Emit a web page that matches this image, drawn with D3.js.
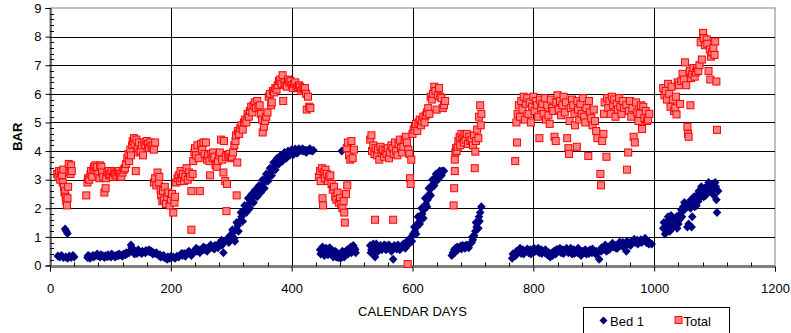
<!DOCTYPE html>
<html>
<head>
<meta charset="utf-8">
<script src="https://cdn.jsdelivr.net/npm/d3@7"></script>
<style>
  html, body { margin: 0; padding: 0; background: #fff; }
  svg { display: block; font-family: "Liberation Sans", Arial, sans-serif; }
</style>
</head>
<body>
<svg id="chart" width="791" height="333"></svg>
<script>
// ---------------- DATA ----------------
const xTicks = [0, 200, 400, 600, 800, 1000, 1200];
const yTicks = [0, 1, 2, 3, 4, 5, 6, 7, 8, 9];
const xTitle = "CALENDAR DAYS";
const yTitle = "BAR";
const seriesNames = ["Bed 1", "Total"];

// Bed 1 : [day, bar]
const bed1 = [
  [13,0.33],[16,0.3],[19,0.35],[22,0.28],[25,1.28],[27,1.2],[29,1.12],[26,0.3],[29,0.25],[32,0.33],[35,0.28],[38,0.35],[40,0.3],
  [62,0.28],[65,0.32],[68,0.3],[71,0.35],[74,0.33],[77,0.36],[80,0.33],[83,0.3],[86,0.35],[89,0.32],[92,0.34],[95,0.31],[98,0.33],
  [101,0.3],[104,0.35],[107,0.33],[110,0.36],[113,0.34],[116,0.37],[119,0.36],[122,0.4],[125,0.38],[128,0.42],[131,0.45],[134,0.72],
  [136,0.6],[138,0.45],[141,0.5],[144,0.42],[147,0.48],[150,0.45],[153,0.5],[156,0.47],[159,0.52],[162,0.5],[165,0.48],[168,0.5],
  [171,0.45],[174,0.42],[177,0.4],[180,0.35],[183,0.3],[186,0.32],[189,0.28],[192,0.25],[195,0.3],[198,0.25],[201,0.28],
  [63,0.35],[66,0.25],[72,0.3],[78,0.4],[84,0.38],[90,0.28],[96,0.38],[102,0.4],[108,0.3],[114,0.4],[120,0.32],[126,0.45],
  [132,0.5],[135,0.62],[140,0.4],[146,0.55],[152,0.42],[158,0.45],[164,0.55],[170,0.4],[176,0.45],[182,0.38],[188,0.35],
  [194,0.22],[200,0.32],
  [204,0.3],[207,0.25],[210,0.32],[213,0.3],[216,0.38],[219,0.35],[222,0.42],[225,0.4],[228,0.45],[231,0.42],[234,0.35],[237,0.48],
  [240,0.52],[243,0.5],[246,0.55],[249,0.52],[252,0.58],[255,0.55],[258,0.6],[261,0.58],[264,0.62],[267,0.65],[270,0.6],[273,0.7],
  [276,0.68],[279,0.75],[282,0.8],[285,0.72],[287,0.45],[289,0.85],[292,0.9],[295,0.95],[298,1.05],[300,1.0],[303,1.15],[306,0.85],
  [308,1.25],[311,1.4],[314,1.55],[317,1.7],[320,1.85],[323,1.95],[326,2.05],[329,2.15],[332,2.25],[335,2.35],[338,2.45],[341,2.5],
  [344,2.6],[347,2.65],[350,2.75],[353,2.85],[356,2.95],[359,3.05],[362,3.15],[365,3.25],[368,3.35],[371,3.45],[374,3.55],[377,3.62],
  [380,3.7],[383,3.78],[386,3.82],[389,3.86],[392,3.9],[395,3.93],[398,3.95],[401,3.97],[404,3.98],[407,4.0],[410,3.97],[413,4.01],
  [416,4.02],[419,4.0],[422,4.03],[425,4.02],[428,4.03],[431,4.02],[434,4.0],
  [218,0.42],[224,0.32],[230,0.5],[236,0.42],[242,0.6],[248,0.45],[254,0.65],[260,0.5],[266,0.72],[272,0.58],[278,0.62],[284,0.88],
  [296,0.8],[302,1.25],[305,0.95],[309,1.5],[312,1.2],[316,1.85],[319,1.55],[322,2.1],[325,1.85],[328,2.35],[331,2.0],[334,2.5],
  [337,2.2],[340,2.65],[343,2.4],[346,2.8],[349,2.55],[352,3.0],[355,2.7],[358,3.2],[361,2.95],[364,3.4],[367,3.15],[370,3.6],
  [373,3.35],[376,3.75],[379,3.55],[382,3.85],[385,3.65],[388,3.95],[391,3.75],[394,4.0],[397,3.85],[400,4.05],[403,3.88],
  [406,4.07],[409,3.92],[412,4.08],[418,4.08],[424,3.95],[430,4.08],[436,4.03],
  [483,4.0],
  [447,0.55],[450,0.45],[453,0.6],[456,0.4],[459,0.55],[462,0.5],[465,0.45],[468,0.4],[471,0.35],[474,0.3],[477,0.28],[480,0.4],
  [483,0.3],[486,0.45],[489,0.35],[492,0.55],[495,0.45],[498,0.65],[501,0.5],[504,0.6],[506,0.45],
  [448,0.4],[451,0.65],[454,0.35],[457,0.6],[460,0.38],[463,0.62],[466,0.55],[469,0.3],[472,0.5],[475,0.45],[478,0.38],[481,0.25],
  [484,0.5],[487,0.3],[490,0.5],[493,0.4],[496,0.6],[499,0.45],[502,0.7],[505,0.55],
  [530,0.7],[532,0.55],[535,0.75],[538,0.3],[541,0.65],[544,0.6],[547,0.7],[550,0.62],[553,0.72],[556,0.55],[559,0.68],[562,0.6],
  [565,0.5],[568,0.22],[571,0.62],[574,0.58],[577,0.65],[580,0.6],[583,0.7],[586,0.68],[589,0.75],[592,0.8],[595,0.9],[598,1.0],
  [531,0.45],[534,0.6],[537,0.5],[540,0.75],[543,0.5],[546,0.6],[549,0.55],[552,0.65],[555,0.7],[558,0.6],[561,0.72],[564,0.65],
  [567,0.55],[570,0.7],[573,0.65],[576,0.72],[579,0.55],[582,0.65],[585,0.75],[588,0.6],[591,0.85],[594,0.75],
  [601,1.1],[604,1.2],[607,1.35],[610,1.5],[613,1.65],[616,1.8],[619,1.95],[622,2.15],[625,2.3],[628,2.5],[631,2.7],[634,2.85],
  [637,3.0],[640,3.1],[643,3.18],[646,3.24],[649,3.3],[652,3.3],
  [599,0.85],[603,1.35],[606,1.1],[609,1.7],[612,1.45],[615,2.0],[618,1.65],[621,2.35],[624,2.05],[627,2.7],[630,2.45],[633,3.0],
  [636,2.8],[639,3.2],[642,3.0],[645,3.3],[648,3.15],
  [665,0.35],[667,0.45],[669,0.55],[671,0.6],[674,0.65],[677,0.62],[680,0.68],[683,0.7],[686,0.66],[689,0.72],[692,0.7],[695,0.75],
  [698,0.8],[700,0.9],[702,1.05],[704,1.2],[706,1.35],[708,1.5],[710,1.7],[712,1.85],[714,2.05],
  [670,0.45],[675,0.55],[681,0.58],[687,0.6],[693,0.62],[699,1.0],[705,1.5],[709,1.3],[711,1.55],
  [765,0.25],[768,0.4],[771,0.35],[774,0.45],[777,0.5],[780,0.42],[783,0.55],[786,0.48],[789,0.52],[792,0.45],[795,0.55],[798,0.5],
  [801,0.6],[804,0.55],[807,0.5],[810,0.45],[813,0.55],[816,0.5],[819,0.45],[822,0.4],[825,0.35],[828,0.3],[831,0.45],[834,0.5],
  [837,0.4],[840,0.55],[843,0.5],[846,0.45],[849,0.55],[852,0.5],[855,0.6],[858,0.45],[861,0.5],[864,0.4],[867,0.55],[870,0.5],
  [873,0.45],[876,0.55],[879,0.35],[882,0.5],[885,0.45],[888,0.4],[891,0.5],[894,0.55],[897,0.45],[900,0.5],[903,0.4],[906,0.45],
  [909,0.22],[912,0.5],[915,0.55],[918,0.6],[921,0.5],[924,0.65],[927,0.6],[930,0.7],[933,0.65],[936,0.7],[939,0.6],[942,0.75],
  [945,0.7],[948,0.8],[951,0.72],[954,0.5],[957,0.75],[960,0.8],[963,0.78],[966,0.85],[969,0.8],[972,0.88],[975,0.82],[978,0.9],
  [981,0.85],[984,0.88],[987,0.8],[990,0.85],[993,0.78],[996,0.75],
  [766,0.4],[772,0.5],[778,0.6],[784,0.4],[790,0.58],[796,0.4],[802,0.48],[808,0.6],[814,0.42],[820,0.55],[826,0.45],[832,0.35],
  [838,0.55],[844,0.6],[850,0.42],[856,0.5],[862,0.6],[868,0.42],[874,0.6],[880,0.48],[886,0.55],[892,0.42],[898,0.58],[904,0.5],
  [913,0.62],[919,0.72],[925,0.55],[931,0.78],[937,0.6],[943,0.82],[949,0.65],[955,0.85],[961,0.7],[967,0.92],[973,0.75],
  [979,0.8],[985,0.95],[991,0.75],
  [1015,1.3],[1018,1.1],[1020,1.5],[1022,1.25],[1025,1.6],[1027,1.4],[1030,1.65],[1032,1.35],[1035,1.55],[1037,1.7],[1040,1.45],
  [1042,1.6],[1045,1.95],[1048,2.05],[1050,1.95],[1052,2.0],[1055,1.35],[1057,1.45],[1058,2.1],[1060,2.0],[1062,1.35],[1063,1.7],
  [1065,2.2],[1067,2.05],[1069,2.3],[1071,2.45],[1073,2.25],[1075,2.55],[1077,2.4],[1079,2.6],[1081,2.5],[1083,2.7],[1085,2.45],
  [1087,2.75],[1089,2.55],[1091,2.8],[1093,2.6],[1095,2.65],[1097,2.85],[1099,2.45],[1101,2.9],[1103,2.3],[1104,1.85],[1106,2.6],
  [1016,1.5],[1019,1.35],[1023,1.7],[1026,1.2],[1028,1.75],[1033,1.6],[1038,1.3],[1043,1.8],[1046,1.7],[1050,2.2],[1054,2.15],
  [1061,2.3],[1066,2.4],[1070,2.1],[1074,2.6],[1078,2.75],[1082,2.4],[1086,2.65],[1090,2.9],[1094,2.8],[1098,2.7],[1102,2.75]
];

// Total : [day, bar]
const total = [
  [12,3.2],[14,3.1],[15,3.3],[17,3.0],[18,3.25],[20,3.15],[21,2.9],[22,3.35],[23,2.75],[24,2.55],[25,2.6],[26,2.4],[27,2.25],
  [28,2.1],[29,2.35],[30,2.75],[31,3.55],[32,3.25],[34,3.2],[35,3.5],[36,3.3],
  [60,2.45],[62,2.9],[63,3.05],[65,3.0],[67,3.2],[68,3.3],[70,3.1],[72,3.35],[73,3.45],[75,3.5],[77,3.3],[78,3.45],[80,3.2],
  [82,3.05],[83,3.5],[85,3.45],[86,3.25],[88,3.1],[90,2.55],[92,2.7],[93,3.05],[95,3.25],[97,3.3],[98,3.15],[100,3.2],[102,3.3],
  [104,3.1],[106,3.25],[108,3.2],[110,3.15],[112,3.25],[114,3.3],[116,3.2],[118,3.1],[120,3.25],[122,3.35],
  [124,3.4],[126,3.55],[128,3.75],[130,3.9],[131,3.65],[133,4.05],[134,3.85],[136,4.2],[137,4.35],[139,4.45],[140,4.25],[142,3.3],
  [143,4.4],[145,4.1],[147,4.3],[148,3.95],[150,4.0],[152,4.2],[154,3.85],[156,4.3],[158,4.2],[160,4.35],[162,4.25],[164,4.1],
  [166,4.3],[168,4.15],[170,4.2],[172,4.05],[174,4.3],
  [172,2.9],[174,3.05],[176,2.8],[178,3.25],[180,2.9],[181,3.1],[183,2.65],[184,2.45],[186,2.25],[187,2.6],[189,2.3],[190,2.75],
  [192,2.15],[194,2.4],[196,2.55],[198,2.1],[200,2.3],[202,2.5],[204,1.85],[206,2.2],[207,2.4],[209,2.9],[211,3.05],[213,3.15],
  [215,2.95],[217,3.2],[219,3.1],
  [216,3.3],[218,3.05],[220,3.2],[222,2.95],[224,3.1],[226,3.4],[228,3.0],[230,3.25],[232,3.1],[234,2.6],[234,1.25],[236,3.2],
  [237,3.65],[239,3.95],[240,4.1],[242,3.85],[244,4.2],[246,3.75],[248,2.6],[250,4.25],[252,4.05],[254,4.3],[256,3.9],[258,4.3],
  [260,3.7],[262,3.85],[264,3.65],[265,3.15],[267,3.9],[269,3.75],[270,3.95],[272,3.8],[274,3.5],[276,3.45],[278,3.65],[280,3.85],
  [281,3.95],[283,4.4],[285,3.7],[287,3.25],[288,4.35],[290,2.95],[291,3.8],[292,1.9],[293,2.85],[295,3.85],[297,3.9],[299,3.75],
  [301,3.8],[303,3.95],[305,4.2],[307,4.35],[308,4.55],[309,2.45],[310,3.6],[311,4.7],[313,4.6],[315,4.8],[317,4.9],[319,4.75],
  [321,5.0],[323,5.1],[325,5.0],[327,5.3],[329,5.2],[331,5.4],[333,5.55],[335,5.35],[337,5.6],[339,5.7],[341,5.5],[343,5.75],
  [345,5.55],[347,5.6],[349,5.3],[351,5.1],[352,4.65],[354,4.85],[356,5.05],[358,5.2],[360,5.35],[362,5.9],[364,6.0],[366,5.6],
  [367,5.7],[369,6.1],[371,6.05],[373,6.2],[375,6.15],[377,6.3],[379,6.45],[381,6.5],[383,6.35],[385,6.65],[386,5.75],[388,6.4],
  [390,6.3],[392,6.25],[394,6.5],[396,6.4],[398,6.45],[400,6.3],[402,6.2],[404,6.35],[406,6.4],[408,6.2],[410,6.25],[412,6.3],
  [414,6.25],[416,6.1],[418,6.2],[420,6.15],[422,6.2],[424,6.0],[425,5.45],[427,5.9],[429,5.55],[431,5.5],
  [445,3.1],[447,3.3],[448,2.95],[450,3.4],[451,2.35],[452,2.1],[453,3.25],[455,3.05],[456,3.35],[458,3.2],[460,2.95],[462,3.1],
  [464,3.15],[466,2.85],[468,2.65],[470,2.75],[472,2.4],[474,2.3],[476,2.55],[478,2.2],[480,2.35],[482,2.15],[484,2.0],[486,2.25],
  [487,1.85],[488,1.5],[490,2.5],[492,2.8],[491,4.1],[493,4.3],[495,3.85],[497,3.7],[499,4.35],[501,3.75],[503,4.05],
  [538,1.6],[568,1.6],
  [530,4.4],[532,4.55],[533,4.0],[535,4.2],[537,3.9],[539,4.1],[541,3.85],[543,4.05],[545,3.7],[547,4.15],[549,3.95],[551,4.05],
  [553,3.8],[555,4.0],[557,3.9],[559,4.1],[561,3.75],[563,3.95],[565,4.2],[567,4.1],[569,3.9],[571,4.3],[573,4.0],[575,3.85],
  [577,4.25],[579,4.4],[581,4.1],[583,3.95],[585,4.15],[587,4.4],[589,4.5],[591,4.3],[593,4.05],[592,0.05],[595,3.9],[596,3.05],
  [597,2.85],[598,3.7],[600,4.6],[602,4.75],[604,4.85],[606,4.95],[608,4.7],[610,5.0],[612,5.1],[614,4.9],[616,5.05],[618,5.2],
  [620,5.0],[622,5.25],[624,5.35],[626,5.5],[628,5.3],[630,5.9],[632,5.8],[634,6.0],[636,6.25],[638,6.1],[640,5.45],[642,5.95],
  [644,6.2],[646,5.9],[648,5.85],[650,5.5],[652,5.6],[654,5.75],
  [668,2.1],[669,2.7],[670,3.3],[670,3.7],[671,3.95],[672,4.1],[673,4.0],[675,4.15],[676,4.35],[678,4.5],[679,4.2],[681,4.6],
  [683,4.45],[685,4.3],[686,4.55],[688,4.4],[690,4.6],[692,4.25],[694,4.5],[696,4.35],[698,4.4],[700,4.2],[702,4.55],[703,3.4],
  [704,3.98],[705,4.35],[707,4.75],[709,4.45],[710,5.2],[712,5.6],[713,4.9],[714,5.3],
  [770,3.65],[773,4.3],[772,5.0],[774,5.3],[776,5.6],[778,5.2],[780,5.75],[782,5.45],[784,5.9],[786,5.1],[788,5.65],[790,5.85],
  [792,5.3],[794,5.7],[796,5.0],[798,5.55],[800,5.9],[802,5.4],[804,5.75],[806,5.6],[808,5.2],[810,4.45],[811,5.8],[813,5.5],
  [815,5.65],[817,5.3],[819,5.85],[821,5.1],[823,5.6],[825,5.25],[827,4.95],[829,5.8],[831,5.5],[833,5.4],[835,4.5],[837,4.35],
  [838,5.7],[840,5.95],[842,5.45],[844,5.75],[846,5.25],[848,5.6],[850,5.9],[852,5.35],[854,5.7],[856,4.45],[858,4.1],[859,3.9],
  [860,5.05],[862,5.5],[864,5.8],[866,5.6],[868,5.3],[869,4.9],[872,4.15],[873,5.75],[874,5.45],[876,5.1],[878,5.65],[880,5.3],
  [882,5.85],[884,5.2],[886,5.0],[888,5.5],[891,3.83],[892,5.75],[894,5.35],[896,5.15],[898,4.9],[900,5.45],[902,5.05],[904,4.7],
  [906,4.45],[911,3.2],[912,2.8],[914,4.35],[916,4.6],[917,5.3],[918,5.7],[921,3.8],[922,5.85],[924,5.5],[926,5.75],[928,5.3],
  [930,5.9],[932,5.6],[934,5.8],[936,5.2],[938,5.65],[940,5.45],[942,5.85],[944,5.55],[946,5.3],[948,5.75],[950,5.5],[955,3.35],
  [954,5.6],[957,3.95],[958,5.4],[960,5.75],[962,5.2],[966,4.5],[964,5.5],[968,4.3],[970,5.7],[972,5.35],[974,5.05],[980,4.77],
  [978,5.6],[976,5.3],[982,5.55],[984,5.15],[986,5.4],[988,5.05],[990,5.1],[992,5.3],
  [1015,6.2],[1017,5.95],[1019,6.1],[1021,5.8],[1023,6.35],[1025,6.0],[1027,5.55],[1029,6.25],[1031,5.8],[1033,5.4],[1035,5.5],
  [1036,5.9],[1037,5.28],[1039,6.4],[1041,6.3],[1043,5.65],[1045,6.45],[1047,6.7],[1049,6.5],[1051,7.1],[1053,6.3],[1055,4.85],
  [1056,4.6],[1057,4.5],[1060,5.6],[1059,6.8],[1061,6.55],[1063,6.7],[1065,6.9],[1067,6.6],[1069,6.75],[1071,6.9],[1073,6.8],
  [1075,7.0],[1077,7.8],[1079,7.2],[1081,8.13],[1082,7.95],[1084,7.7],[1087,7.9],[1088,7.75],[1090,6.8],[1093,6.5],[1092,7.55],
  [1094,7.3],[1096,7.45],[1098,7.6],[1101,7.83],[1100,7.36],[1103,6.43],[1104,4.74]
];

// ---------------- LAYOUT ----------------
const svg = d3.select("#chart");
const W = 791, H = 333;
const plot = { left: 50, right: 775, top: 8, bottom: 265.5 };

svg.append("rect").attr("width", W).attr("height", H).attr("fill", "#fff");

const x = d3.scaleLinear().domain([0, 1200]).range([plot.left, plot.right]);
const y = d3.scaleLinear().domain([0, 9]).range([plot.bottom, plot.top]);

// plot border (grey)
svg.append("rect")
  .attr("x", plot.left).attr("y", plot.top)
  .attr("width", plot.right - plot.left).attr("height", plot.bottom - plot.top)
  .attr("fill", "none").attr("stroke", "#808080").attr("stroke-width", 1);

// gridlines
svg.append("g").selectAll("line").data(yTicks.filter(d => d > 0 && d < 9)).join("line")
  .attr("x1", plot.left).attr("x2", plot.right)
  .attr("y1", d => Math.round(y(d)) + 0.5).attr("y2", d => Math.round(y(d)) + 0.5)
  .attr("stroke", "#000").attr("stroke-width", 1);
svg.append("g").selectAll("line").data(xTicks.filter(d => d > 0 && d < 1200)).join("line")
  .attr("y1", plot.top).attr("y2", plot.bottom)
  .attr("x1", d => Math.round(x(d)) + 0.5).attr("x2", d => Math.round(x(d)) + 0.5)
  .attr("stroke", "#000").attr("stroke-width", 1);

// axes
const fontSize = 13;
const yAxis = d3.axisLeft(y).tickValues(yTicks).tickSize(5).tickPadding(4).tickFormat(d3.format("d"));
const gy = svg.append("g").attr("transform", `translate(${plot.left + 0.5},0)`).call(yAxis);
const xAxis = d3.axisBottom(x).tickValues(xTicks).tickSize(5).tickPadding(12).tickFormat(d3.format("d"));
const gx = svg.append("g").attr("transform", `translate(0,${Math.round(plot.bottom) + 0.5})`).call(xAxis);
[gx, gy].forEach(g => {
  g.select(".domain").attr("stroke", "#000");
  g.selectAll(".tick line").attr("stroke", "#000");
  g.selectAll("text").attr("fill", "#000").style("font-size", fontSize + "px")
    .style("font-family", '"Liberation Sans", Arial, sans-serif');
});

// minor ticks (inside)
const yMinor = d3.range(0, 9.001, 0.2).filter(v => Math.abs(v - Math.round(v)) > 1e-6);
svg.append("g").selectAll("line").data(yMinor).join("line")
  .attr("x1", plot.left).attr("x2", plot.left + 4)
  .attr("y1", d => Math.round(y(d)) + 0.5).attr("y2", d => Math.round(y(d)) + 0.5)
  .attr("stroke", "#000");
const xMinor = d3.range(0, 1200.1, 40).filter(v => v % 200 !== 0);
svg.append("g").selectAll("line").data(xMinor).join("line")
  .attr("y1", Math.round(plot.bottom) + 0.5).attr("y2", Math.round(plot.bottom) - 3.5)
  .attr("x1", d => Math.round(x(d)) + 0.5).attr("x2", d => Math.round(x(d)) + 0.5)
  .attr("stroke", "#000");

// titles
svg.append("text").attr("x", (plot.left + plot.right) / 2).attr("y", 316)
  .attr("text-anchor", "middle").style("font-size", "13px").attr("fill", "#000").text(xTitle);
svg.append("text")
  .attr("transform", `translate(22,${(plot.top + plot.bottom) / 2}) rotate(-90)`)
  .attr("text-anchor", "middle").style("font-size", "13px").style("font-weight", "bold")
  .attr("fill", "#000").text(yTitle);

// markers
const diamond = "M0,-4.5L4.3,0L0,4.5L-4.3,0Z";
svg.append("g").selectAll("path").data(bed1).join("path")
  .attr("d", diamond)
  .attr("transform", d => `translate(${x(d[0])},${y(d[1])})`)
  .attr("fill", "#000080");

svg.append("g").selectAll("rect").data(total).join("rect")
  .attr("x", d => x(d[0]) - 3.5).attr("y", d => y(d[1]) - 3.5)
  .attr("width", 7).attr("height", 7)
  .attr("fill", "#FF8080").attr("stroke", "#FF0000").attr("stroke-width", 1);

// legend
const lg = svg.append("g");
lg.append("rect").attr("x", 583.5).attr("y", 307.5).attr("width", 146).attr("height", 30)
  .attr("fill", "#fff").attr("stroke", "#000");
lg.append("path").attr("d", "M0,-4L4,0L0,4L-4,0Z").attr("transform", "translate(603.5,320.5)").attr("fill", "#000080");
lg.append("text").attr("x", 610).attr("y", 325.5).style("font-size", "13px").attr("fill", "#000").text(seriesNames[0]);
lg.append("rect").attr("x", 675).attr("y", 316.5).attr("width", 7).attr("height", 7)
  .attr("fill", "#FF8080").attr("stroke", "#FF0000");
lg.append("text").attr("x", 683.5).attr("y", 325.5).style("font-size", "13px").attr("fill", "#000").text(seriesNames[1]);
</script>
</body>
</html>
